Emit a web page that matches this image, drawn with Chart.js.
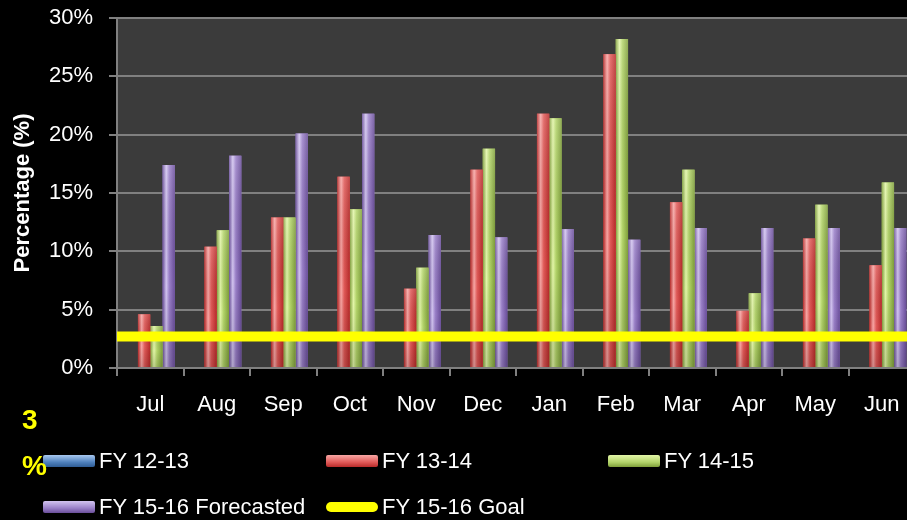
<!DOCTYPE html>
<html>
<head>
<meta charset="utf-8">
<script src="https://cdn.jsdelivr.net/npm/chart.js@4.4.1/dist/chart.umd.min.js"></script>
<style>
    html, body { margin: 0; padding: 0; background: #000; overflow: hidden; width: 907px; height: 520px; }
    #wrap { position: relative; width: 907px; height: 520px; overflow: hidden; }
    #chart { position: absolute; left: 0; top: 0; }
    .legend-item { position: absolute; display: flex; align-items: center; color: #fff;
        font: 22px "Liberation Sans", Arial, sans-serif; white-space: nowrap; }
    .swatch { width: 52px; height: 12px; margin-right: 4px; border-radius: 2px; }
    .swatch.line { height: 10px; border-radius: 6px; }
    .goal-label { position: absolute; left: 22px; color: #ffff00; font: bold 28px "Liberation Sans", Arial, sans-serif; }
</style>
</head>
<body>
<div id="wrap">
    <canvas id="chart" width="930" height="520"></canvas>
    <div id="legend"></div>
    <div class="goal-label" style="top:404px">3</div>
    <div class="goal-label" style="top:450px">%</div>
</div>
<script>
// Chart data (%)
const months = ["Jul", "Aug", "Sep", "Oct", "Nov", "Dec", "Jan", "Feb", "Mar", "Apr", "May", "Jun"];
const fy1213 = [null, null, null, null, null, null, null, null, null, null, null, null];
const fy1314 = [4.6, 10.4, 12.9, 16.4, 6.8, 17.0, 21.8, 26.9, 14.2, 4.9, 11.1, 8.8];
const fy1415 = [3.6, 11.8, 12.9, 13.6, 8.6, 18.8, 21.4, 28.2, 17.0, 6.4, 14.0, 15.9];
const fy1516Forecast = [17.4, 18.2, 20.1, 21.8, 11.4, 11.2, 11.9, 11.0, 12.0, 12.0, 12.0, 12.0];
const goalValue = 2.7;
const yMin = 0, yMax = 30, yStep = 5;

const seriesLabels = ["FY 12-13", "FY 13-14", "FY 14-15", "FY 15-16 Forecasted", "FY 15-16 Goal"];
const seriesColors = ["#4f81bd", "#e05a58", "#b3d46a", "#9a80c8", "#ffff00"];
const seriesDark = ["#2f5d95", "#b82b2a", "#7f9f3a", "#6a4e9a", "#ffff00"];
const seriesLight = ["#a8c8f0", "#f7a6a4", "#e2f5a8", "#d2c4f0", "#ffff00"];

const FONT = '"Liberation Sans", Arial, sans-serif';

// dark plot area background
const plotBg = {
    id: "plotBg",
    beforeDraw(chart) {
        const { ctx, chartArea: a } = chart;
        ctx.save();
        ctx.fillStyle = "#3b3b3b";
        ctx.fillRect(a.left, a.top, a.right - a.left, a.bottom - a.top);
        ctx.restore();
    }
};

// glassy shading on each bar, using the positions the library computed
const barShade = {
    id: "barShade",
    afterDatasetDraw(chart, args) {
        const meta = args.meta;
        if (meta.type !== "bar") return;
        const i = args.index;
        const ctx = chart.ctx;
        ctx.save();
        meta.data.forEach((bar) => {
            const { x, y, base, width } = bar.getProps(["x", "y", "base", "width"], true);
            if (y == null || isNaN(y)) return;
            const l = x - width / 2;
            const g = ctx.createLinearGradient(l, 0, l + width, 0);
            g.addColorStop(0, seriesDark[i]);
            g.addColorStop(0.3, seriesLight[i]);
            g.addColorStop(0.55, seriesColors[i]);
            g.addColorStop(1, seriesDark[i]);
            ctx.fillStyle = g;
            ctx.fillRect(l, y, width, base - y);
            const v = ctx.createLinearGradient(0, y, 0, base);
            v.addColorStop(0, "rgba(255,255,255,0.15)");
            v.addColorStop(0.6, "rgba(0,0,0,0)");
            v.addColorStop(1, "rgba(0,0,0,0.15)");
            ctx.fillStyle = v;
            ctx.fillRect(l, y, width, base - y);
        });
        ctx.restore();
    }
};

// goal line across the whole plot, placed by the y scale
const goalLine = {
    id: "goalLine",
    afterDatasetsDraw(chart) {
        const { ctx, chartArea: a, scales } = chart;
        const py = scales.y.getPixelForValue(goalValue);
        ctx.save();
        ctx.strokeStyle = seriesColors[4];
        ctx.lineWidth = 10;
        ctx.beginPath();
        ctx.moveTo(a.left, py);
        ctx.lineTo(a.right, py);
        ctx.stroke();
        ctx.restore();
    }
};

const barSets = [fy1213, fy1314, fy1415, fy1516Forecast].map((d, i) => ({
    label: seriesLabels[i],
    data: d,
    backgroundColor: seriesColors[i],
    borderWidth: 0,
    categoryPercentage: 0.74,
    barPercentage: 1.0
}));

new Chart(document.getElementById("chart"), {
    type: "bar",
    data: { labels: months, datasets: barSets },
    options: {
        responsive: false,
        animation: false,
        layout: { padding: { top: 18, right: 15, left: 0, bottom: 0 } },
        plugins: { legend: { display: false }, tooltip: { enabled: false } },
        scales: {
            x: {
                grid: { drawOnChartArea: false, drawTicks: true, tickLength: 8, color: "#808080", lineWidth: 2 },
                border: { color: "#808080", width: 2 },
                ticks: { color: "#ffffff", font: { family: FONT, size: 22 }, padding: 16, maxRotation: 0, autoSkip: false },
                afterFit(scale) { scale.height = 152; scale.paddingLeft = 0; scale.paddingRight = 0; }
            },
            y: {
                min: yMin, max: yMax,
                grid: { color: "#808080", lineWidth: 2, tickLength: 8 },
                border: { color: "#808080", width: 2 },
                ticks: { stepSize: yStep, color: "#ffffff", font: { family: FONT, size: 22 }, padding: 16,
                    callback: (v) => v + "%" },
                title: { display: true, text: "Percentage (%)", color: "#ffffff",
                    font: { family: FONT, size: 22, weight: "bold" }, padding: { top: 10, bottom: 0 } },
                afterFit(scale) { scale.width = 117; scale.paddingTop = 0; scale.paddingBottom = 0; }
            }
        }
    },
    plugins: [plotBg, barShade, goalLine]
});

// legend built from the series lists
const legendPos = [[43, 461], [326, 461], [608, 461], [43, 507], [326, 507]];
const legend = document.getElementById("legend");
seriesLabels.forEach((name, i) => {
    const item = document.createElement("div");
    item.className = "legend-item";
    item.style.left = legendPos[i][0] + "px";
    item.style.top = (legendPos[i][1] - 13) + "px";
    const sw = document.createElement("div");
    sw.className = i === 4 ? "swatch line" : "swatch";
    sw.style.background = i === 4 ? seriesColors[i]
        : `linear-gradient(${seriesLight[i]}, ${seriesColors[i]} 60%, ${seriesDark[i]})`;
    item.appendChild(sw);
    item.appendChild(document.createTextNode(name));
    legend.appendChild(item);
});
</script>
</body>
</html>
